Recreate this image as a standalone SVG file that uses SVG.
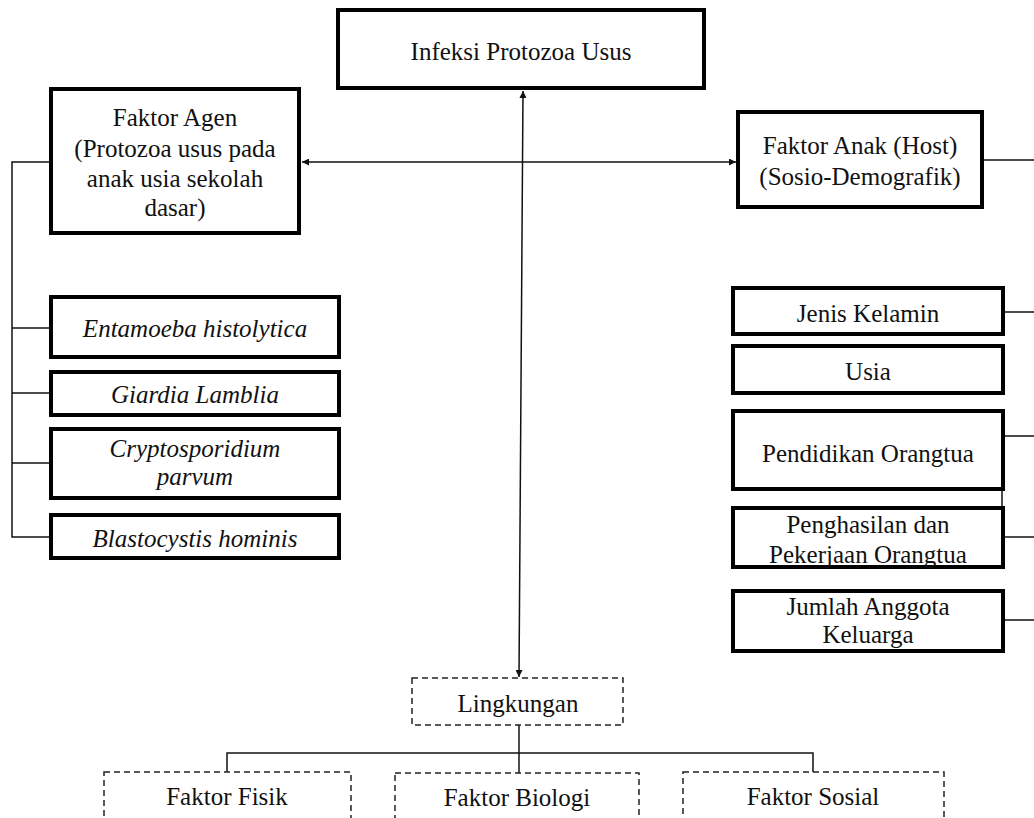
<svg xmlns="http://www.w3.org/2000/svg" width="1034" height="818" viewBox="0 0 1034 818">
<style>
.b{fill:#fff;stroke:#000;stroke-width:4}
.d{fill:#fff;stroke:#222;stroke-width:1.5;stroke-dasharray:6 4}
.c{fill:none;stroke:#111;stroke-width:1.5}
text{font-family:'Liberation Serif','DejaVu Serif',serif;font-size:25px;fill:#111;text-anchor:middle}
.i{font-style:italic}
</style>
<defs>
<marker id="ah" viewBox="0 0 10 10" refX="10" refY="5" markerWidth="8" markerHeight="7" markerUnits="userSpaceOnUse" orient="auto-start-reverse">
<path d="M0,0 L10,5 L0,10 Z" fill="#111"/>
</marker>
</defs>
<g id="connectors">
<line class="c" x1="302" y1="162" x2="736" y2="162" marker-start="url(#ah)" marker-end="url(#ah)"/>
<line class="c" x1="523" y1="91" x2="519" y2="677" marker-start="url(#ah)" marker-end="url(#ah)"/>
<polyline class="c" points="51,162 12,162 12,537 51,537"/>
<line class="c" x1="12" y1="328" x2="51" y2="328"/>
<line class="c" x1="12" y1="393" x2="51" y2="393"/>
<line class="c" x1="12" y1="463" x2="51" y2="463"/>
<line class="c" x1="982" y1="160" x2="1034" y2="160"/>
<line class="c" x1="1003" y1="312" x2="1034" y2="312"/>
<line class="c" x1="1003" y1="436" x2="1034" y2="436"/>
<line class="c" x1="1003" y1="537" x2="1034" y2="537"/>
<line class="c" x1="1003" y1="620" x2="1034" y2="620"/>
<line class="c" x1="1002" y1="489" x2="1002" y2="508"/>
<line class="c" x1="519" y1="725" x2="519" y2="773"/>
<polyline class="c" points="227,772 227,753 813,753 813,772"/>
</g>
<g id="infeksi"><rect class="b" x="338" y="10" width="366" height="78"/><text x="521" y="60">Infeksi Protozoa Usus</text></g>
<g id="agen"><rect class="b" x="51" y="89" width="248" height="144"/>
<text x="175" y="126">Faktor Agen</text><text x="175" y="157">(Protozoa usus pada</text><text x="175" y="187">anak usia sekolah</text><text x="175" y="216">dasar)</text></g>
<g id="anak"><rect class="b" x="738" y="112" width="244" height="95"/>
<text x="860" y="154">Faktor Anak (Host)</text><text x="860" y="185">(Sosio-Demografik)</text></g>
<g id="entamoeba"><rect class="b" x="51" y="297" width="288" height="60"/><text class="i" x="195" y="337">Entamoeba histolytica</text></g>
<g id="giardia"><rect class="b" x="51" y="372" width="288" height="43"/><text class="i" x="195" y="403">Giardia Lamblia</text></g>
<g id="crypto"><rect class="b" x="51" y="429" width="288" height="69"/><text class="i" x="195" y="457">Cryptosporidium</text><text class="i" x="195" y="485">parvum</text></g>
<g id="blasto"><rect class="b" x="51" y="515" width="288" height="43"/><text class="i" x="195" y="547">Blastocystis hominis</text></g>
<g id="jenis"><rect class="b" x="733" y="288" width="270" height="46"/><text x="868" y="322">Jenis Kelamin</text></g>
<g id="usia"><rect class="b" x="733" y="346" width="270" height="47"/><text x="868" y="380">Usia</text></g>
<g id="pendidikan"><rect class="b" x="733" y="411" width="270" height="78"/><text x="868" y="462">Pendidikan Orangtua</text></g>
<g id="penghasilan"><rect class="b" x="733" y="508" width="270" height="59"/><text x="868" y="533">Penghasilan dan</text><text x="868" y="563">Pekerjaan Orangtua</text></g>
<g id="jumlah"><rect class="b" x="733" y="591" width="270" height="60"/><text x="868" y="615">Jumlah Anggota</text><text x="868" y="643">Keluarga</text></g>
<g id="lingkungan"><rect class="d" x="412" y="678" width="211" height="47"/><text x="518" y="712">Lingkungan</text></g>
<g id="fisik"><rect class="d" x="104" y="772" width="247" height="60"/><text x="227" y="805">Faktor Fisik</text></g>
<g id="biologi"><rect class="d" x="395" y="773" width="244" height="60"/><text x="517" y="806">Faktor Biologi</text></g>
<g id="sosial"><rect class="d" x="683" y="772" width="261" height="60"/><text x="813" y="805">Faktor Sosial</text></g>
</svg>
